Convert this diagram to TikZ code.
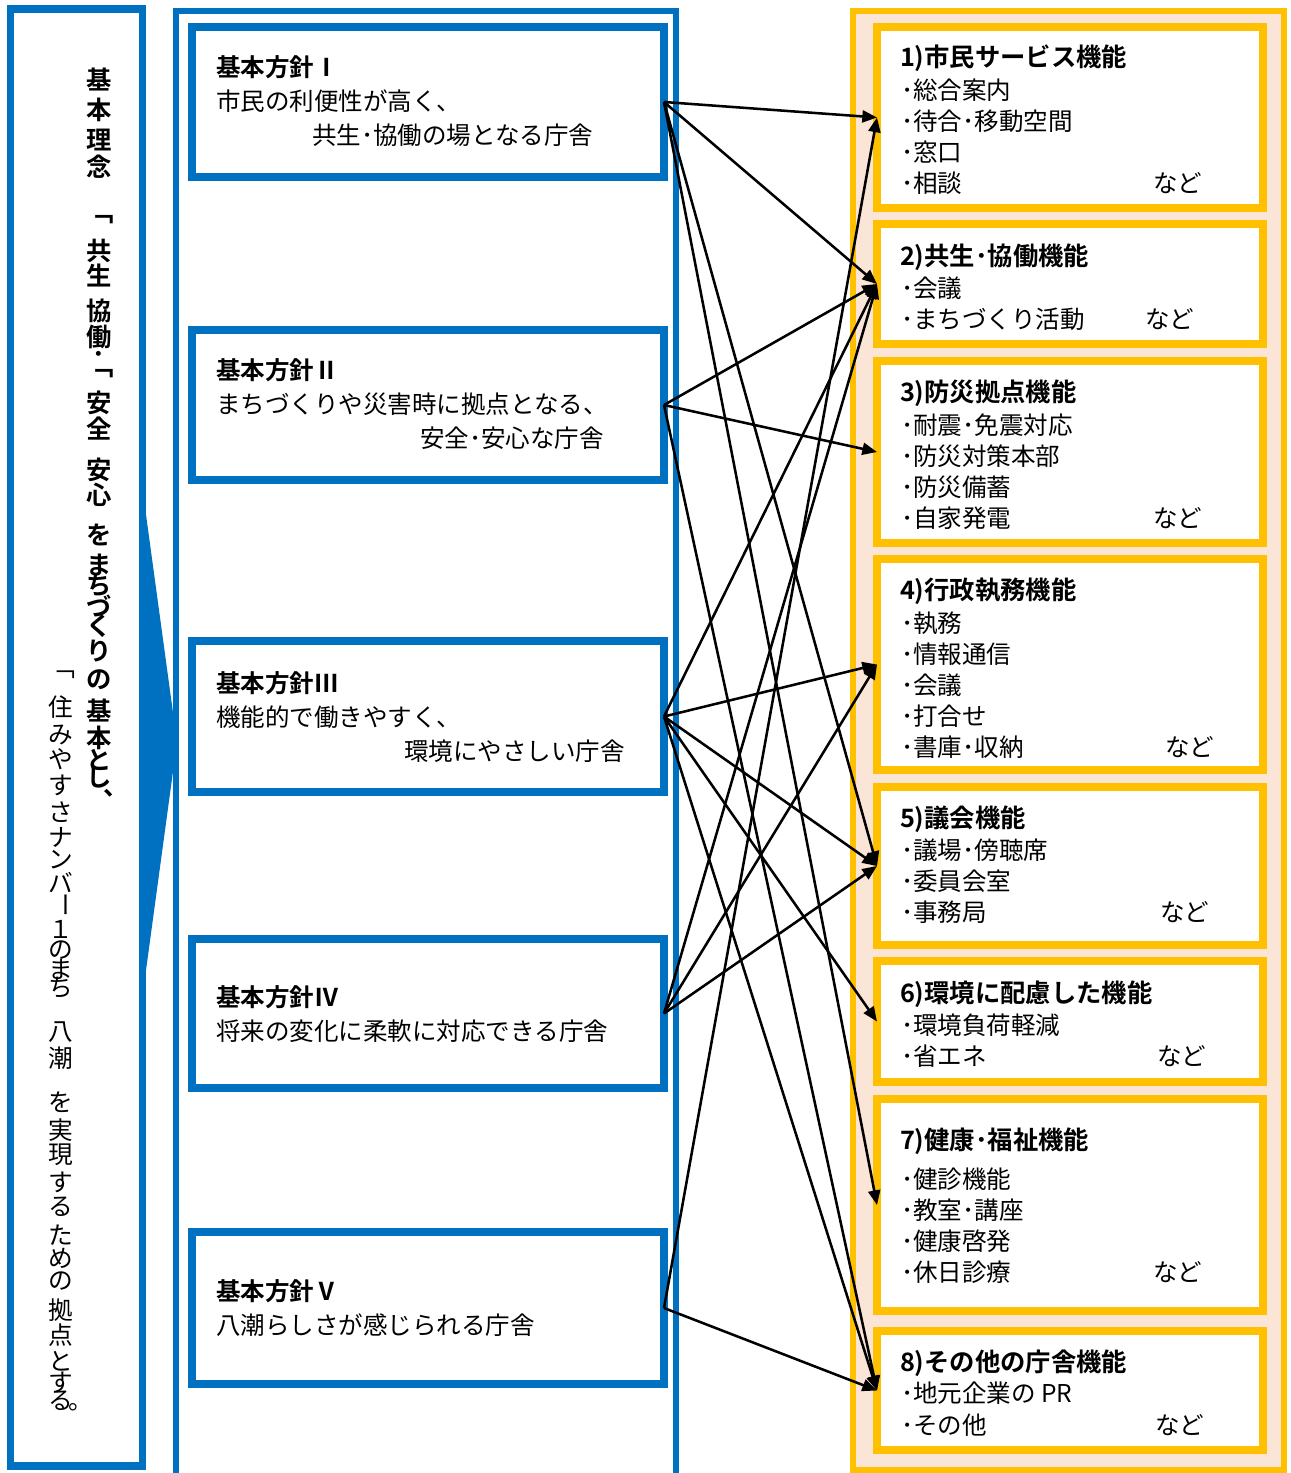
\documentclass[tikz,border=0pt]{standalone}
\usepackage{fontspec}
\setmainfont{Noto Sans CJK JP}[BoldFont={Noto Sans CJK JP Bold}]
\usetikzlibrary{arrows.meta,fit}
\definecolor{cblue}{HTML}{0070C0}
\definecolor{corange}{HTML}{FFC000}
\definecolor{cpeach}{HTML}{FBE5D6}
\newcount\tcnt
\newcommand\mytxt[4][]{\global\advance\tcnt by 1\relax\node[txt,#1] (txt\the\tcnt) at (#2,#3) {#4};}
\begin{document}
\begin{tikzpicture}[x=0.75pt,y=-0.75pt,
  every node/.style={inner sep=0pt,outer sep=0pt},
  txt/.style={anchor=base west,font=\fontsize{18.4pt}{22pt}\selectfont},
  ttl/.style={font=\fontsize{19pt}{22pt}\selectfont\bfseries},
  bld/.style={font=\fontsize{18.4pt}{22pt}\selectfont\bfseries},
  vch/.style={anchor=center,font=\fontsize{18.5pt}{18.5pt}\selectfont},
  vchb/.style={anchor=center,font=\fontsize{19pt}{19pt}\selectfont\bfseries},
  pbox/.style={draw=cblue,line width=6pt,fill=white},
  fbox/.style={draw=corange,line width=6pt,fill=white},
  arr/.style={line width=1.9pt,-{Triangle[length=11pt,width=9pt]}}]
\useasboundingbox (0,0) rectangle (1290,1473);
\clip (0,0) rectangle (1290,1473);
\fill[white] (0,0) rectangle (1290,1473);
% frames
\node[draw=cblue,line width=5.5pt,fill=white,fit={(10.5,9)(142.5,1466)}] (lbox) {};
\fill[cblue] (144,500) -- (177,742) -- (144,985) -- cycle;
\node[draw=cblue,line width=4.5pt,fit={(176,11)(676,1520)}] (mframe) {};
\node[draw=corange,fill=cpeach,line width=4.5pt,fit={(853,11.5)(1283.5,1469.5)}] (oframe) {};
% vertical text, column 1
\foreach \c/\yy [count=\i] in {基/80,本/110,理/140,念/167,共/251,生/276,協/311,働/337,安/403,全/429,安/470,心/495,を/535,ま/565,ち/585,づ/606,く/626,り/651,の/680,基/711,本/738,と/760,し/777}
  \node[vchb] (ca\i) at (99,\yy) {\c};
\node[vchb] (cb1) at (101,220) {﹁};
\node[vchb] (cb2) at (99,357) {･};
\node[vchb] (cb3) at (101,374) {﹁};
\node[vchb] (cb4) at (116,793) {、};
% vertical text, column 2
\foreach \c/\yy [count=\i] in {住/707,み/735,や/759,す/785,さ/812,ナ/837,ン/860,バ/882,１/929,の/950,ま/969,ち/988,八/1032,潮/1058,を/1102,実/1130,現/1155,す/1182,る/1207,た/1235,め/1258,の/1281,拠/1310,点/1335,と/1361,す/1382,る/1401}
  \node[vch] (da\i) at (61,\yy) {\c};
\node[vch] (db1) at (63,675) {﹁};
\node[vch,rotate=-90] (db2) at (62,905) {ー};
\node[vch] (db3) at (81,1407) {。};
% policy boxes
\node[pbox,fit={(192,27)(664,177)}] (p1) {};
\node[pbox,fit={(192,330)(664,480)}] (p2) {};
\node[pbox,fit={(192,641)(664,792)}] (p3) {};
\node[pbox,fit={(192,939)(664,1088)}] (p4) {};
\node[pbox,fit={(192,1232)(664,1384)}] (p5) {};
\mytxt[bld]{216}{77}{基本方針Ⅰ}
\mytxt{216}{111}{市民の利便性が高く、}
\mytxt{312}{145}{共生･協働の場となる庁舎}
\mytxt[bld]{216}{379}{基本方針Ⅱ}
\mytxt{216}{413}{まちづくりや災害時に拠点となる、}
\mytxt{420}{447}{安全･安心な庁舎}
\mytxt[bld]{216}{692}{基本方針Ⅲ}
\mytxt{216}{726}{機能的で働きやすく、}
\mytxt{404}{760}{環境にやさしい庁舎}
\mytxt[bld]{216}{1006}{基本方針Ⅳ}
\mytxt{216}{1040}{将来の変化に柔軟に対応できる庁舎}
\mytxt[bld]{216}{1300}{基本方針Ⅴ}
\mytxt{216}{1334}{八潮らしさが感じられる庁舎}
% function boxes
\node[fbox,fit={(877,27)(1263,208)}] (f1) {};
\node[fbox,fit={(877,224)(1263,344)}] (f2) {};
\node[fbox,fit={(877,361)(1263,543)}] (f3) {};
\node[fbox,fit={(877,559)(1263,770)}] (f4) {};
\node[fbox,fit={(877,787)(1263,945)}] (f5) {};
\node[fbox,fit={(877,961)(1263,1082)}] (f6) {};
\node[fbox,fit={(877,1099)(1263,1311)}] (f7) {};
\node[fbox,fit={(877,1331)(1263,1450)}] (f8) {};
% F1
\mytxt[ttl]{900}{67}{1)市民サービス機能}
\mytxt{901}{100}{･総合案内}
\mytxt{901}{131}{･待合･移動空間}
\mytxt{901}{162}{･窓口}
\mytxt{901}{193}{･相談}
\mytxt{1153}{193}{など}
% F2
\mytxt[ttl]{900}{265}{2)共生･協働機能}
\mytxt{901}{297}{･会議}
\mytxt{901}{328}{･まちづくり活動}
\mytxt{1145}{328}{など}
% F3
\mytxt[ttl]{900}{401}{3)防災拠点機能}
\mytxt{901}{434}{･耐震･免震対応}
\mytxt{901}{465}{･防災対策本部}
\mytxt{901}{496}{･防災備蓄}
\mytxt{901}{527}{･自家発電}
\mytxt{1153}{527}{など}
% F4
\mytxt[ttl]{900}{599}{4)行政執務機能}
\mytxt{901}{632}{･執務}
\mytxt{901}{663}{･情報通信}
\mytxt{901}{694}{･会議}
\mytxt{901}{725}{･打合せ}
\mytxt{901}{756}{･書庫･収納}
\mytxt{1165}{756}{など}
% F5
\mytxt[ttl]{900}{827}{5)議会機能}
\mytxt{901}{859}{･議場･傍聴席}
\mytxt{901}{890}{･委員会室}
\mytxt{901}{921}{･事務局}
\mytxt{1160}{921}{など}
% F6
\mytxt[ttl]{900}{1002}{6)環境に配慮した機能}
\mytxt{901}{1034}{･環境負荷軽減}
\mytxt{901}{1065}{･省エネ}
\mytxt{1157}{1065}{など}
% F7
\mytxt[ttl]{900}{1149}{7)健康･福祉機能}
\mytxt{901}{1188}{･健診機能}
\mytxt{901}{1219}{･教室･講座}
\mytxt{901}{1250}{･健康啓発}
\mytxt{901}{1281}{･休日診療}
\mytxt{1153}{1281}{など}
% F8
\mytxt[ttl]{900}{1371}{8)その他の庁舎機能}
\mytxt{901}{1402}{･地元企業の PR}
\mytxt{901}{1434}{･その他}
\mytxt{1155}{1434}{など}
% arrows
\foreach \s/\t in {p1/f1,p1/f2,p1/f5,p1/f7,p2/f2,p2/f3,p2/f8,p3/f2,p3/f4,p3/f5,p3/f6,p3/f8,p4/f2,p4/f4,p4/f5,p5/f1,p5/f8}
  \draw[arr] (\s.east) -- (\t.west);
\end{tikzpicture}
\end{document}
